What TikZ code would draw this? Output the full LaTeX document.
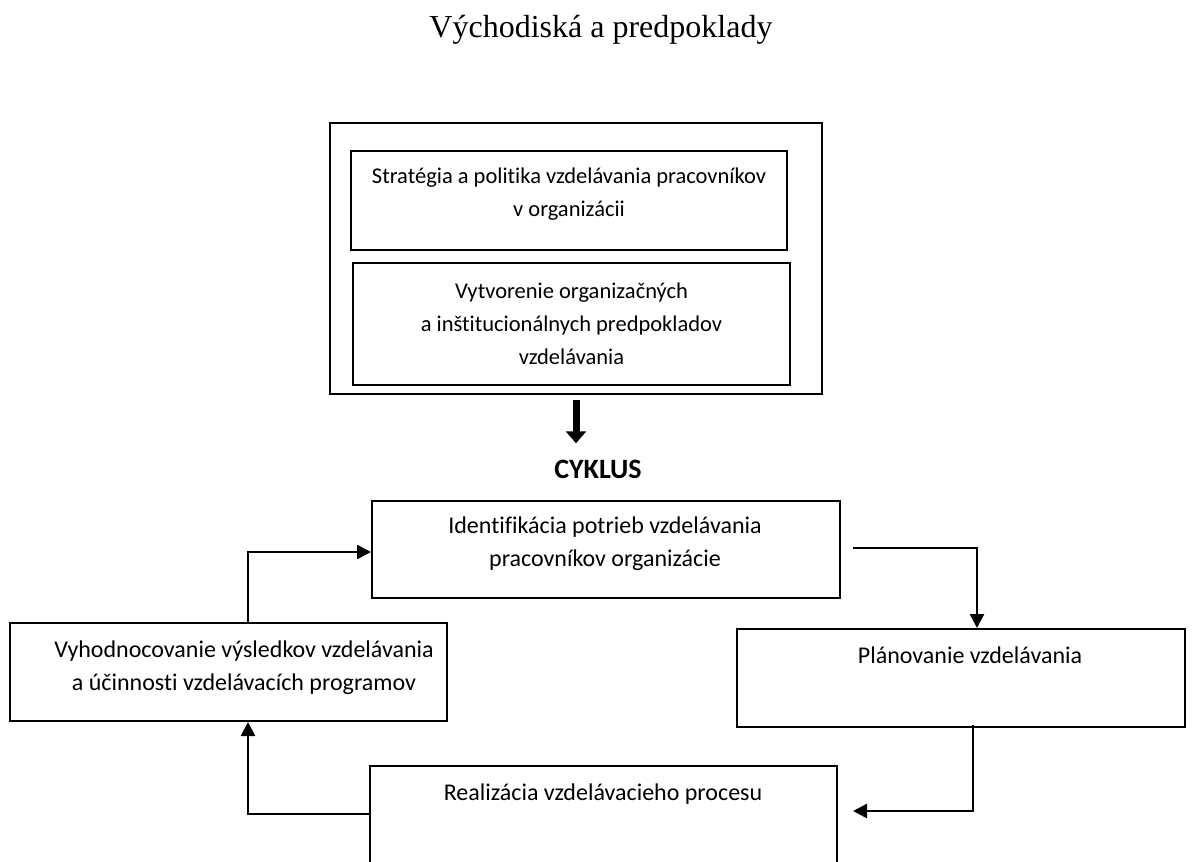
\documentclass[tikz,border=0pt]{standalone}
\usepackage{fontspec}
\setmainfont{Carlito}[Ligatures=NoCommon]
\newfontfamily\titlefont{Liberation Serif}
\usetikzlibrary{arrows.meta,calc}
\begin{document}
\begin{tikzpicture}[x=1pt,y=-1pt,
  boxst/.style={draw, line width=2pt, inner sep=0pt, rectangle},
  outerbox/.style={draw, line width=2.5pt, inner sep=0pt, rectangle},
  txt/.style={align=center, font=\fontsize{24}{33}\selectfont, inner sep=0pt},
  smalltxt/.style={align=center, font=\fontsize{22.5}{33}\selectfont, inner sep=0pt},
  arr/.style={line width=2.5pt, -{Triangle[length=14pt,width=14pt]}},
  bigarr/.style={line width=7pt, -{Triangle[length=12pt,width=20pt]}}]
\useasboundingbox (0,0) rectangle (1202,862);
\clip (0,0) rectangle (1202,862);

\node[font=\titlefont\fontsize{32}{38}\selectfont, inner sep=0pt] (title) at (601,30) {Východiská a predpoklady};

\node[outerbox, minimum width=492, minimum height=271] (outer) at (576,258.5) {};
\node[boxst, minimum width=436, minimum height=99] (strat) at (569,200.5) {};
\node[smalltxt] (tstrat) at (569,194) {Stratégia a politika vzdelávania pracovníkov\\v organizácii};
\node[boxst, minimum width=437, minimum height=122] (vytv) at (571.5,324) {};
\node[smalltxt] (tvytv) at (571.5,324) {Vytvorenie organizačných\\a inštitucionálnych predpokladov\\vzdelávania};

\draw[bigarr] ([yshift=-5pt]outer.south) -- ([yshift=-48pt]outer.south);

\node[font=\bfseries\fontsize{28}{34}\selectfont, inner sep=0pt] (cyk) at (598,469) {CYKLUS};

\node[boxst, minimum width=468, minimum height=97] (ident) at (606,549.5) {};
\node[txt] (tident) at (605,544) {Identifikácia potrieb vzdelávania\\pracovníkov organizácie};

\node[boxst, minimum width=448, minimum height=98] (plan) at (961,678) {};
\node[txt] (tplan) at (970,655) {Plánovanie vzdelávania};

\node[boxst, minimum width=467, minimum height=124] (realiz) at (603.5,828) {};
\node[txt] (trealiz) at (603,794) {Realizácia vzdelávacieho procesu};

\node[boxst, minimum width=437, minimum height=98] (vyhod) at (228.5,672) {};
\node[txt] (tvyhod) at (244,667.5) {Vyhodnocovanie výsledkov vzdelávania\\a účinnosti vzdelávacích programov};

\coordinate (k1) at (248,552);
\draw[arr] (vyhod.north -| k1) |- (ident.west |- k1);

\coordinate (k2) at (977,548);
\draw[arr] ($(ident.east |- k2)+(12,0)$) -| (plan.north -| k2);

\coordinate (k3) at (973,811);
\draw[arr] ([yshift=3pt]plan.south -| k3) |- ($(realiz.east |- k3)+(15,0)$);

\coordinate (k4) at (248,814);
\draw[arr] (realiz.west |- k4) -| (vyhod.south -| k4);
\end{tikzpicture}
\end{document}
